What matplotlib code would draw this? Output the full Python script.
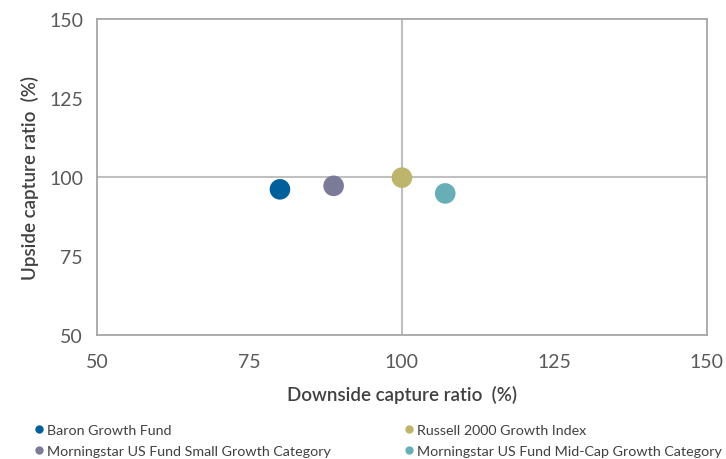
import matplotlib.pyplot as plt
from matplotlib.lines import Line2D

plt.rcParams['font.family'] = ['Lato', 'DejaVu Sans']

# data
names = ['Baron Growth Fund',
         'Morningstar US Fund Small Growth Category',
         'Russell 2000 Growth Index',
         'Morningstar US Fund Mid-Cap Growth Category']
downside = [80.0, 88.8, 100.0, 107.1]
upside = [96.1, 97.2, 99.8, 94.8]
colors = ['#00609C', '#7B7B98', '#BDB56B', '#67AEB7']
ticks = [50, 75, 100, 125, 150]

fig = plt.figure(figsize=(7.26, 4.6), dpi=100)
ax = fig.add_axes([0.1336, 0.2696, 0.84, 0.6869])

ax.axhline(100, color='#C0C0C0', lw=1.5, zorder=1)
ax.axvline(100, color='#C0C0C0', lw=1.5, zorder=1)
ax.scatter(downside, upside, s=220, c=colors, edgecolors='none', zorder=3)

ax.set_xlim(50, 150)
ax.set_ylim(50, 150)
ax.set_xticks(ticks)
ax.set_yticks(ticks)
ax.tick_params(length=0, labelsize=14, colors='#595959')
ax.tick_params(axis='x', pad=13)
ax.tick_params(axis='y', pad=10)
for s in ax.spines.values():
    s.set_color('#A6A6A6')
    s.set_linewidth(1.3)

ax.set_xlabel('Downside capture ratio  (%)', fontsize=13.5, color='#404040',
              fontweight='semibold', labelpad=11)
ax.set_ylabel('Upside capture ratio  (%)', fontsize=13.5, color='#404040',
              fontweight='semibold', labelpad=7)

handles = [Line2D([], [], marker='o', ls='none', color=c, markersize=5)
           for c in colors]
fig.legend(handles, names, ncol=2, loc='lower left',
           bbox_to_anchor=(0.026, -0.024), frameon=False, fontsize=10.3,
           labelcolor='#404040', handletextpad=0.05, handlelength=1.0,
           columnspacing=5.0, labelspacing=0.62)

fig.savefig('out.png', dpi=100)
